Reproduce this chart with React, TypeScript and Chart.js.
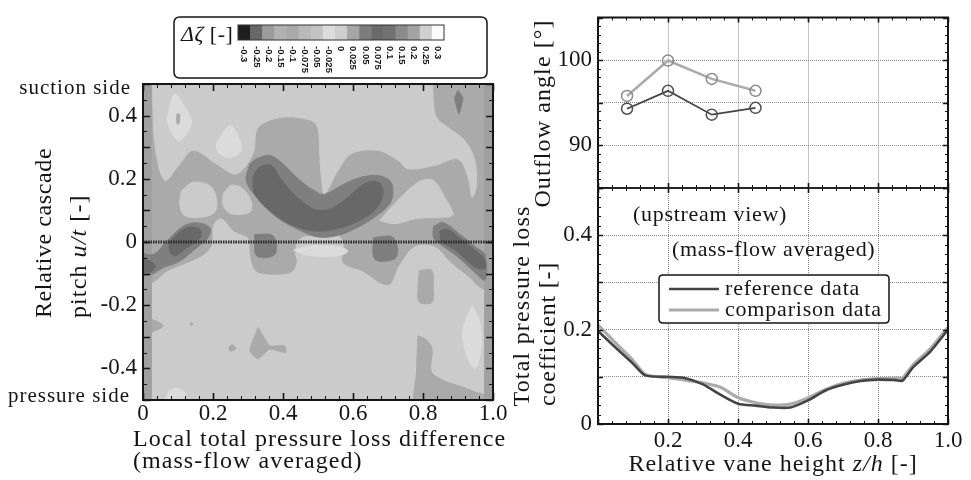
import React, { useEffect, useRef } from 'react';
import { Chart, registerables } from 'chart.js';

Chart.register(...registerables);

const SERIF = '"Liberation Serif", "Times New Roman", serif';
const INK = '#151515';
type Pt = [number, number];

// ---------- colour bar of the left panel ----------
const deltaTicks = ['-0.3', '-0.25', '-0.2', '-0.15', '-0.1', '-0.075', '-0.05', '-0.025', '0', '0.025', '0.05', '0.075', '0.1', '0.15', '0.2', '0.25', '0.3'];
const deltaShades = ['#1e1e1e', '#676767', '#9b9b9b', '#b1b1b1', '#a9a9a9', '#b9b9b9', '#c3c3c3', '#dcdcdc', '#cfcfcf', '#a6a6a6', '#7c7c7c', '#6a6a6a', '#717171', '#8b8b8b', '#a3a3a3', '#d0d0d0', '#fafafa'];

// ---------- axis tick values ----------
const pitchTicks = [-0.4, -0.2, 0, 0.2, 0.4];
const spanTicks = [0, 0.2, 0.4, 0.6, 0.8, 1.0];
const angleTicks = [90, 100];
const lossTicks = [0, 0.2, 0.4];

// ---------- contour level shades ----------
const shadeLight = '#cbcbcb';
const shadeLighter = '#dbdbdb';
const shadeMid = '#aaaaaa';
const shadeEdge = '#a0a0a0';
const shadeDark = '#7f7f7f';
const shadeDarkest = '#686868';

// ---------- contour regions (x = 0..1, y = u/t) ----------
const fieldBase: Pt[] = [[-0.1, -0.6], [1.1, -0.6], [1.1, 0.6], [-0.1, 0.6], [-0.1, -0.6]];
const midUpper: Pt[] = [[-0.05, -0.13], [0.025, -0.128], [0.068, -0.092], [0.125, -0.065], [0.172, -0.04], [0.195, -0.01], [0.2, 0.055], [0.225, 0.075], [0.26, 0.035], [0.3, 0.015], [0.305, -0.013], [0.314, -0.076], [0.333, -0.097], [0.419, -0.097], [0.438, -0.065], [0.433, -0.034], [0.445, 0.01], [0.5, 0.025], [0.555, 0.025], [0.575, -0.005], [0.572, -0.065], [0.625, -0.09], [0.7, -0.135], [0.73, -0.075], [0.776, -0.013], [0.833, -0.013], [0.881, -0.065], [0.929, -0.107], [0.975, -0.15], [1.05, -0.15], [1.05, 0.55], [-0.05, 0.55], [-0.05, -0.13]];
const midBarLow: Pt[] = [[0.79, -0.09], [0.825, -0.09], [0.829, -0.14], [0.826, -0.19], [0.79, -0.19], [0.786, -0.14], [0.79, -0.09]];
const midCornerLow: Pt[] = [[0.786, -0.297], [0.81, -0.31], [0.826, -0.34], [0.824, -0.41], [0.862, -0.44], [0.91, -0.458], [0.95, -0.475], [0.98, -0.49], [0.98, -0.55], [0.785, -0.55], [0.782, -0.4], [0.786, -0.297]];
const midWedgeLeft: Pt[] = [[-0.02, -0.24], [0.024, -0.245], [0.057, -0.265], [0.024, -0.285], [-0.02, -0.29]];
const midTriangle: Pt[] = [[0.329, -0.27], [0.362, -0.328], [0.405, -0.328], [0.408, -0.35], [0.362, -0.339], [0.329, -0.37], [0.305, -0.344], [0.329, -0.27]];
const midSpeck: Pt[] = [[0.245, -0.333], [0.255, -0.325], [0.265, -0.338], [0.25, -0.345], [0.245, -0.333]];
const midDot: Pt[] = [[0.135, -0.256], [0.142, -0.258], [0.138, -0.265], [0.135, -0.256]];
const lightTop: Pt[] = [[0.028, 0.55], [0.028, 0.45], [0.035, 0.3], [0.062, 0.195], [0.1, 0.24], [0.143, 0.29], [0.21, 0.247], [0.267, 0.216], [0.314, 0.279], [0.329, 0.363], [0.4, 0.395], [0.48, 0.385], [0.5, 0.36], [0.505, 0.28], [0.51, 0.2], [0.519, 0.153], [0.557, 0.226], [0.595, 0.279], [0.671, 0.29], [0.729, 0.258], [0.757, 0.232], [0.833, 0.242], [0.9, 0.263], [0.93, 0.2], [0.94, 0.142], [0.952, 0.174], [0.948, 0.258], [0.919, 0.321], [0.871, 0.363], [0.838, 0.395], [0.829, 0.458], [0.829, 0.55]];
const lightRight: Pt[] = [[0.676, 0.068], [0.719, 0.121], [0.786, 0.189], [0.829, 0.195], [0.862, 0.142], [0.886, 0.089], [0.876, 0.08], [0.786, 0.075], [0.719, 0.058], [0.676, 0.068]];
const lightLeftA: Pt[] = [[0.11, 0.163], [0.143, 0.189], [0.19, 0.179], [0.21, 0.137], [0.205, 0.095], [0.171, 0.079], [0.119, 0.084], [0.105, 0.121], [0.11, 0.163]];
const lightLeftB: Pt[] = [[0.229, 0.153], [0.252, 0.179], [0.286, 0.168], [0.31, 0.126], [0.305, 0.095], [0.252, 0.089], [0.229, 0.116], [0.229, 0.153]];
const palePeak: Pt[] = [[0.071, 0.405], [0.09, 0.468], [0.114, 0.437], [0.138, 0.384], [0.124, 0.342], [0.1, 0.321], [0.071, 0.374], [0.071, 0.405]];
const paleDiamond: Pt[] = [[0.21, 0.316], [0.248, 0.368], [0.271, 0.337], [0.281, 0.289], [0.248, 0.268], [0.214, 0.284], [0.21, 0.316]];
const paleStreak: Pt[] = [[0.43, -0.025], [0.48, -0.012], [0.56, -0.015], [0.585, -0.03], [0.55, -0.045], [0.47, -0.042], [0.43, -0.025]];
const paleOval: Pt[] = [[0.94, -0.2], [0.962, -0.25], [0.967, -0.33], [0.95, -0.4], [0.925, -0.36], [0.914, -0.28], [0.94, -0.2]];
const paleFoot: Pt[] = [[0.055, -0.55], [0.07, -0.48], [0.095, -0.462], [0.12, -0.48], [0.13, -0.55]];
const midFleck: Pt[] = [[0.097, 0.405], [0.104, 0.405], [0.103, 0.375], [0.097, 0.375], [0.097, 0.405]];
const edgeLeft: Pt[] = [[-0.05, -0.55], [0.024, -0.55], [0.024, 0.55], [-0.05, 0.55], [-0.05, -0.55]];
const edgeRight: Pt[] = [[0.977, -0.55], [1.05, -0.55], [1.05, 0.55], [0.977, 0.55], [0.977, -0.55]];
const kidneyOuter: Pt[] = [[0.305, 0.247], [0.324, 0.263], [0.362, 0.274], [0.4, 0.247], [0.448, 0.195], [0.5, 0.155], [0.519, 0.15], [0.576, 0.184], [0.624, 0.205], [0.671, 0.21], [0.705, 0.195], [0.714, 0.163], [0.705, 0.121], [0.662, 0.079], [0.614, 0.047], [0.557, 0.021], [0.5, 0.016], [0.448, 0.037], [0.381, 0.079], [0.324, 0.142], [0.295, 0.195], [0.305, 0.247]];
const kidneyCore: Pt[] = [[0.314, 0.205], [0.333, 0.237], [0.367, 0.242], [0.39, 0.205], [0.429, 0.153], [0.476, 0.111], [0.5, 0.1], [0.538, 0.105], [0.586, 0.142], [0.633, 0.184], [0.671, 0.19], [0.686, 0.163], [0.676, 0.121], [0.643, 0.084], [0.586, 0.053], [0.529, 0.037], [0.476, 0.037], [0.419, 0.058], [0.362, 0.1], [0.319, 0.153], [0.314, 0.205]];
const blobLeftOuter: Pt[] = [[-0.02, -0.03], [0.03, -0.039], [0.068, 0.003], [0.115, 0.05], [0.153, 0.061], [0.191, 0.045], [0.186, 0.014], [0.153, -0.018], [0.106, -0.06], [0.058, -0.081], [0.025, -0.102], [-0.02, -0.11]];
const blobLeftCore: Pt[] = [[0.077, 0.003], [0.125, 0.045], [0.163, 0.04], [0.163, 0.014], [0.125, -0.018], [0.091, -0.044], [0.075, -0.025], [0.077, 0.003]];
const blobEdgeCore: Pt[] = [[-0.02, -0.055], [0.02, -0.06], [0.035, -0.078], [0.02, -0.095], [-0.02, -0.095]];
const blobRightOuter: Pt[] = [[0.83, 0.05], [0.858, 0.061], [0.906, 0.024], [0.953, -0.018], [0.977, -0.04], [0.977, -0.12], [0.944, -0.092], [0.896, -0.044], [0.849, -0.007], [0.83, 0.014], [0.83, 0.05]];
const blobRightCore: Pt[] = [[0.849, 0.035], [0.87, 0.04], [0.915, 0.003], [0.963, -0.039], [0.977, -0.06], [0.977, -0.085], [0.944, -0.076], [0.896, -0.028], [0.853, 0.003], [0.849, 0.035]];
const blobNearThird: Pt[] = [[0.319, 0.024], [0.372, 0.019], [0.377, -0.039], [0.325, -0.044], [0.319, 0.024]];
const blobNearTwoThirds: Pt[] = [[0.658, 0.014], [0.715, 0.014], [0.723, -0.049], [0.663, -0.055], [0.658, 0.014]];
const blobTopRight: Pt[] = [[0.9, 0.48], [0.914, 0.455], [0.903, 0.405], [0.89, 0.455], [0.9, 0.48]];
const zeroLine: Pt[] = [[0, 0], [1, 0]];

// ---------- right panels ----------
const anglePositions = [0.083, 0.2, 0.325, 0.45];
const angleReference = [94.3, 96.4, 93.6, 94.4];
const angleComparison = [95.8, 99.95, 97.8, 96.4];

const heightPositions = [0, 0.05, 0.1, 0.135, 0.2, 0.25, 0.3, 0.35, 0.4, 0.45, 0.5, 0.55, 0.6, 0.65, 0.7, 0.75, 0.8, 0.85, 0.87, 0.9, 0.95, 1.0];
const lossReference = [0.197, 0.162, 0.128, 0.103, 0.1, 0.097, 0.084, 0.062, 0.043, 0.039, 0.035, 0.035, 0.05, 0.071, 0.083, 0.091, 0.094, 0.093, 0.092, 0.12, 0.154, 0.2];
const lossComparison = [0.21, 0.172, 0.135, 0.105, 0.098, 0.093, 0.087, 0.078, 0.056, 0.045, 0.04, 0.042, 0.055, 0.073, 0.086, 0.093, 0.096, 0.097, 0.097, 0.125, 0.16, 0.205];
const seriesNames = ['reference data', 'comparison data'];
const seriesColors = ['#444444', '#ababab'];

// ---------- helpers ----------
type Run = [string, boolean?];

function drawRuns(ctx: CanvasRenderingContext2D, runs: Run[], x: number, y: number, size: number, align: 'left' | 'center' | 'right', rotate = 0, spacing = 1) {
  ctx.save();
  (ctx as any).letterSpacing = `${spacing}px`;
  ctx.translate(x, y);
  if (rotate) ctx.rotate(rotate);
  const fonts = runs.map(r => `${r[1] ? 'italic ' : ''}${size}px ${SERIF}`);
  const widths = runs.map((r, i) => { ctx.font = fonts[i]; return ctx.measureText(r[0]).width; });
  const total = widths.reduce((a, b) => a + b, 0);
  let pos = align === 'left' ? 0 : align === 'center' ? -total / 2 : -total;
  ctx.textBaseline = 'middle';
  ctx.textAlign = 'left';
  ctx.fillStyle = INK;
  runs.forEach((r, i) => { ctx.font = fonts[i]; ctx.fillText(r[0], pos, 0); pos += widths[i]; });
  ctx.restore();
}

function roundRect(ctx: CanvasRenderingContext2D, x: number, y: number, w: number, h: number, r: number) {
  ctx.beginPath();
  ctx.moveTo(x + r, y);
  ctx.lineTo(x + w - r, y);
  ctx.quadraticCurveTo(x + w, y, x + w, y + r);
  ctx.lineTo(x + w, y + h - r);
  ctx.quadraticCurveTo(x + w, y + h, x + w - r, y + h);
  ctx.lineTo(x + r, y + h);
  ctx.quadraticCurveTo(x, y + h, x, y + h - r);
  ctx.lineTo(x, y + r);
  ctx.quadraticCurveTo(x, y, x + r, y);
  ctx.closePath();
}

function steps(min: number, max: number, step: number) {
  const n = Math.round((max - min) / step);
  return Array.from({ length: n + 1 }, (_, i) => min + i * step);
}

type FrameOpts = { xMajor: number; xMinor: number; yMajor: number; yMinor: number; major: number; minor: number; widths: [number, number, number, number] };

const framePlugin = {
  id: 'frameTicks',
  afterDraw(chart: any, _args: any, opts: FrameOpts) {
    const { ctx, chartArea: a, scales } = chart;
    const xs = scales.x, ys = scales.y;
    ctx.save();
    ctx.strokeStyle = INK;
    const tickX = (vals: number[], len: number) => {
      vals.forEach(v => {
        const p = Math.round(xs.getPixelForValue(v)) + 0.5;
        ctx.moveTo(p, a.top); ctx.lineTo(p, a.top + len);
        ctx.moveTo(p, a.bottom); ctx.lineTo(p, a.bottom - len);
      });
    };
    const tickY = (vals: number[], len: number) => {
      vals.forEach(v => {
        const p = Math.round(ys.getPixelForValue(v)) + 0.5;
        ctx.moveTo(a.left, p); ctx.lineTo(a.left + len, p);
        ctx.moveTo(a.right, p); ctx.lineTo(a.right - len, p);
      });
    };
    ctx.lineWidth = 1;
    ctx.beginPath();
    tickX(steps(xs.min, xs.max, opts.xMinor), opts.minor);
    tickY(steps(ys.min, ys.max, opts.yMinor), opts.minor);
    ctx.stroke();
    ctx.lineWidth = 1.6;
    ctx.beginPath();
    tickX(steps(xs.min, xs.max, opts.xMajor), opts.major);
    tickY(steps(ys.min, ys.max, opts.yMajor), opts.major);
    ctx.stroke();
    const [wt, wr, wb, wl] = opts.widths;
    const line = (w: number, x1: number, y1: number, x2: number, y2: number) => {
      ctx.lineWidth = w; ctx.beginPath(); ctx.moveTo(x1, y1); ctx.lineTo(x2, y2); ctx.stroke();
    };
    line(wt, a.left - 1, a.top, a.right + 1, a.top);
    line(wr, a.right, a.top, a.right, a.bottom);
    line(wb, a.left - 1, a.bottom, a.right + 1, a.bottom);
    line(wl, a.left, a.top, a.left, a.bottom);
    ctx.restore();
  },
};

const fmt1 = (v: number) => {
  const r = Math.round(v * 10) / 10;
  return r === 0 ? '0' : r.toFixed(1);
};
const fixedTicks = (vals: number[]) => (s: any) => { s.ticks = vals.map(value => ({ value })); };

const tickFont = { family: SERIF, size: 23, lineHeight: 1 };
const baseOptions = {
  animation: false as const,
  responsive: false,
  maintainAspectRatio: false,
  events: [] as any[],
  plugins: { legend: { display: false }, tooltip: { enabled: false } },
};

const toXY = (pts: Pt[]) => pts.map(([x, y]) => ({ x, y }));

// ---------- left panel (contour) ----------
function contourConfig(): any {
  const layers: { shape: Pt[]; color: string; tension?: number }[] = [
    { shape: fieldBase, color: shadeLight, tension: 0 },
    { shape: midUpper, color: shadeMid },
    { shape: midBarLow, color: shadeMid },
    { shape: midCornerLow, color: shadeMid },
    { shape: midWedgeLeft, color: shadeMid },
    { shape: midTriangle, color: shadeMid, tension: 0.15 },
    { shape: midSpeck, color: shadeMid },
    { shape: midDot, color: shadeMid },
    { shape: lightTop, color: shadeLight },
    { shape: lightRight, color: shadeLight },
    { shape: lightLeftA, color: shadeLight },
    { shape: lightLeftB, color: shadeLight },
    { shape: palePeak, color: shadeLighter },
    { shape: paleDiamond, color: shadeLighter },
    { shape: paleStreak, color: shadeLighter },
    { shape: paleOval, color: shadeLighter },
    { shape: paleFoot, color: shadeLighter },
    { shape: midFleck, color: shadeMid },
    { shape: edgeLeft, color: shadeEdge, tension: 0 },
    { shape: edgeRight, color: shadeEdge, tension: 0 },
    { shape: kidneyOuter, color: shadeDark },
    { shape: kidneyCore, color: shadeDarkest },
    { shape: blobLeftOuter, color: shadeDark },
    { shape: blobLeftCore, color: shadeDarkest },
    { shape: blobEdgeCore, color: shadeDarkest },
    { shape: blobRightOuter, color: shadeDark },
    { shape: blobRightCore, color: shadeDarkest },
    { shape: blobNearThird, color: shadeDark },
    { shape: blobNearTwoThirds, color: shadeDark },
    { shape: blobTopRight, color: shadeDark, tension: 0.1 },
  ];
  const datasets: any[] = layers.map((l, i) => ({
    data: toXY(l.shape),
    showLine: true,
    fill: 'shape',
    backgroundColor: l.color,
    borderColor: l.color,
    borderWidth: 1,
    pointRadius: 0,
    tension: l.tension ?? 0.35,
    order: -i,
  }));
  datasets.push({
    data: toXY(zeroLine),
    showLine: true,
    fill: false,
    borderColor: '#2a2a2a',
    borderWidth: 3,
    borderDash: [1.5, 1],
    pointRadius: 0,
    tension: 0,
    order: -1000,
  });

  const decor = {
    id: 'leftDecor',
    afterDraw(chart: any) {
      const { ctx, chartArea: a } = chart;
      drawRuns(ctx, [['suction side']], a.left - 12, a.top + 4, 21, 'right');
      drawRuns(ctx, [['pressure side']], a.left - 13, a.bottom - 4, 21, 'right');
      drawRuns(ctx, [['Relative cascade']], a.left - 98, a.top + 234, 24, 'left', -Math.PI / 2, 0.6);
      drawRuns(ctx, [['pitch '], ['u/t', true], [' [-]']], a.left - 63, a.top + 234, 24, 'left', -Math.PI / 2, 1.1);
      drawRuns(ctx, [['Local total pressure loss difference']], a.left - 10, a.bottom + 40, 24, 'left', 0, 1.05);
      drawRuns(ctx, [['(mass-flow averaged)']], a.left - 10, a.bottom + 62, 24, 'left', 0, 1.05);
      // colour-bar legend box
      const bx = a.left + 31, by = a.top - 67;
      ctx.save();
      ctx.fillStyle = '#fff';
      roundRect(ctx, bx, by, 313, 61, 6);
      ctx.fill();
      ctx.lineWidth = 1.5;
      ctx.strokeStyle = INK;
      ctx.stroke();
      ctx.restore();
      drawRuns(ctx, [['Δζ', true], [' [-]']], bx + 7, by + 18, 22, 'left', 0, 0.5);
      const cx0 = a.left + 95, cy0 = a.top - 59, cw = 206 / deltaShades.length, ch = 15;
      ctx.save();
      deltaShades.forEach((c, i) => {
        ctx.fillStyle = c;
        ctx.fillRect(cx0 + i * cw, cy0, cw + 0.5, ch);
      });
      ctx.strokeStyle = '#333';
      ctx.lineWidth = 1;
      ctx.strokeRect(cx0, cy0, cw * deltaShades.length, ch);
      ctx.fillStyle = INK;
      ctx.font = 'bold 9.5px "Liberation Sans", "DejaVu Sans", sans-serif';
      ctx.textAlign = 'left';
      ctx.textBaseline = 'middle';
      deltaTicks.forEach((t, i) => {
        ctx.save();
        ctx.translate(cx0 + (i + 0.5) * cw, cy0 + ch + 6);
        ctx.rotate(Math.PI / 2);
        ctx.fillText(t, 0, 0);
        ctx.restore();
      });
      ctx.restore();
    },
  };

  return {
    type: 'scatter',
    data: { datasets },
    options: {
      ...baseOptions,
      layout: { padding: { left: 0, top: 84, right: 478, bottom: 0 } },
      scales: {
        x: {
          type: 'linear', min: 0, max: 1,
          afterBuildTicks: fixedTicks(spanTicks),
          ticks: { font: tickFont, color: INK, padding: 2, maxRotation: 0, autoSkip: false, callback: (v: number) => fmt1(v) },
          grid: { display: false, drawTicks: false },
          border: { display: false },
          afterFit: (s: any) => { s.height = 80; },
        },
        y: {
          type: 'linear', min: -0.5, max: 0.5,
          afterBuildTicks: fixedTicks(pitchTicks),
          ticks: { font: tickFont, color: INK, padding: 6, autoSkip: false, callback: (v: number) => fmt1(v) },
          grid: { display: false, drawTicks: false },
          border: { display: false },
          afterFit: (s: any) => { s.width = 143; },
        },
      },
      plugins: {
        ...baseOptions.plugins,
        frameTicks: { xMajor: 0.2, xMinor: 0.04, yMajor: 0.1, yMinor: 0.05, major: 7, minor: 4, widths: [2, 2, 2, 2] },
      },
    },
    plugins: [framePlugin, decor],
  };
}

// ---------- right top panel (outflow angle) ----------
function angleConfig(): any {
  const mk = (vals: number[], i: number) => ({
    label: seriesNames[i],
    data: anglePositions.map((x, k) => ({ x, y: vals[k] })),
    showLine: true,
    borderColor: seriesColors[i],
    borderWidth: i === 0 ? 1.8 : 2.6,
    pointRadius: 5.5,
    pointBorderWidth: 1.5,
    pointBorderColor: i === 0 ? '#505050' : '#8a8a8a',
    pointBackgroundColor: 'rgba(0,0,0,0)',
    tension: 0,
  });
  const decor = {
    id: 'angleDecor',
    afterDraw(chart: any) {
      const { ctx, chartArea: a } = chart;
      drawRuns(ctx, [['Outflow angle [°]']], a.left - 54, a.top + 96, 24, 'center', -Math.PI / 2, 1.1);
    },
  };
  return {
    type: 'scatter',
    data: { datasets: [mk(angleReference, 0), mk(angleComparison, 1)] },
    options: {
      ...baseOptions,
      layout: { padding: { left: 0, top: 6, right: 23, bottom: 292 } },
      scales: {
        x: {
          type: 'linear', min: 0, max: 1,
          ticks: { display: false, stepSize: 0.2 },
          grid: { color: '#8c8c8c', lineWidth: 1, drawTicks: false },
          border: { display: false, dash: [1, 1] },
          afterFit: (s: any) => { s.height = 0; },
        },
        y: {
          type: 'linear', min: 85, max: 105,
          ticks: { stepSize: 5, font: tickFont, color: INK, padding: 6, autoSkip: false, callback: (v: number) => (angleTicks.includes(v) ? String(v) : '') },
          grid: { color: '#8c8c8c', lineWidth: 1, drawTicks: false },
          border: { display: false, dash: [1, 1] },
          afterFit: (s: any) => { s.width = 598; },
        },
      },
      plugins: {
        ...baseOptions.plugins,
        frameTicks: { xMajor: 0.2, xMinor: 0.04, yMajor: 5, yMinor: 1, major: 5, minor: 3, widths: [2, 2, 1.5, 2] },
      },
    },
    plugins: [framePlugin, decor],
  };
}

// ---------- right bottom panel (loss coefficient) ----------
function lossConfig(): any {
  const mk = (vals: number[], i: number) => ({
    label: seriesNames[i],
    data: heightPositions.map((x, k) => ({ x, y: vals[k] })),
    showLine: true,
    borderColor: seriesColors[i],
    borderWidth: i === 0 ? 2.6 : 3.2,
    pointRadius: 0,
    tension: 0.25,
  });
  const decor = {
    id: 'lossDecor',
    afterDraw(chart: any) {
      const { ctx, chartArea: a } = chart;
      drawRuns(ctx, [['Total pressure loss']], a.left - 75, a.top + 118, 24, 'center', -Math.PI / 2, 1.2);
      drawRuns(ctx, [['coefficient [-]']], a.left - 49, a.top + 146, 24, 'center', -Math.PI / 2, 0.8);
      drawRuns(ctx, [['(upstream view)']], a.left + 35, a.top + 27, 22, 'left', 0, 0.7);
      drawRuns(ctx, [['(mass-flow averaged)']], a.left + 74, a.top + 62, 22, 'left', 0, 0.6);
      drawRuns(ctx, [['Relative vane height '], ['z/h', true], [' [-]']], (a.left + a.right) / 2, a.bottom + 41, 24, 'center', 0, 1);
      // legend
      const lx = a.left + 61, ly = a.top + 87, lw = 230, lh = 48;
      ctx.save();
      ctx.fillStyle = '#fff';
      roundRect(ctx, lx, ly, lw, lh, 4);
      ctx.fill();
      ctx.lineWidth = 1.5;
      ctx.strokeStyle = INK;
      ctx.stroke();
      chart.data.datasets.forEach((ds: any, i: number) => {
        const yy = ly + 14 + i * 21;
        ctx.strokeStyle = ds.borderColor;
        ctx.lineWidth = ds.borderWidth;
        ctx.beginPath();
        ctx.moveTo(lx + 10, yy);
        ctx.lineTo(lx + 60, yy);
        ctx.stroke();
        drawRuns(ctx, [[ds.label]], lx + 66, yy, 22, 'left', 0, 0.8);
      });
      ctx.restore();
    },
  };
  return {
    type: 'scatter',
    data: { datasets: [mk(lossReference, 0), mk(lossComparison, 1)] },
    options: {
      ...baseOptions,
      layout: { padding: { left: 0, top: 188, right: 23, bottom: 0 } },
      scales: {
        x: {
          type: 'linear', min: 0, max: 1,
          ticks: { stepSize: 0.2, font: tickFont, color: INK, padding: 5, maxRotation: 0, autoSkip: false, callback: (v: number) => (v < 0.05 ? '' : fmt1(v)) },
          grid: { color: '#8c8c8c', lineWidth: 1, drawTicks: false },
          border: { display: false, dash: [1, 1] },
          afterFit: (s: any) => { s.height = 56; },
        },
        y: {
          type: 'linear', min: 0, max: 0.5,
          ticks: { stepSize: 0.1, font: tickFont, color: INK, padding: 6, autoSkip: false, callback: (v: number) => (lossTicks.some(t => Math.abs(t - v) < 1e-6) ? fmt1(v) : '') },
          grid: { color: '#8c8c8c', lineWidth: 1, drawTicks: false },
          border: { display: false, dash: [1, 1] },
          afterFit: (s: any) => { s.width = 598; },
        },
      },
      plugins: {
        ...baseOptions.plugins,
        frameTicks: { xMajor: 0.2, xMinor: 0.04, yMajor: 0.1, yMinor: 0.02, major: 5, minor: 3, widths: [1.5, 2, 2, 2] },
      },
    },
    plugins: [framePlugin, decor],
  };
}

export default function App() {
  const aRef = useRef<HTMLCanvasElement>(null);
  const bRef = useRef<HTMLCanvasElement>(null);
  const cRef = useRef<HTMLCanvasElement>(null);
  useEffect(() => {
    const charts = [
      new Chart(aRef.current as HTMLCanvasElement, contourConfig()),
      new Chart(bRef.current as HTMLCanvasElement, angleConfig()),
      new Chart(cRef.current as HTMLCanvasElement, lossConfig()),
    ];
    return () => charts.forEach(c => c.destroy());
  }, []);
  const st: React.CSSProperties = { position: 'absolute', left: 0, top: 0, width: 971, height: 480 };
  return (
    <div style={{ position: 'fixed', left: 0, top: 0, width: 971, height: 480, background: '#fff', overflow: 'hidden' }}>
      <canvas ref={aRef} width={971} height={480} style={st} />
      <canvas ref={cRef} width={971} height={480} style={st} />
      <canvas ref={bRef} width={971} height={480} style={st} />
    </div>
  );
}
